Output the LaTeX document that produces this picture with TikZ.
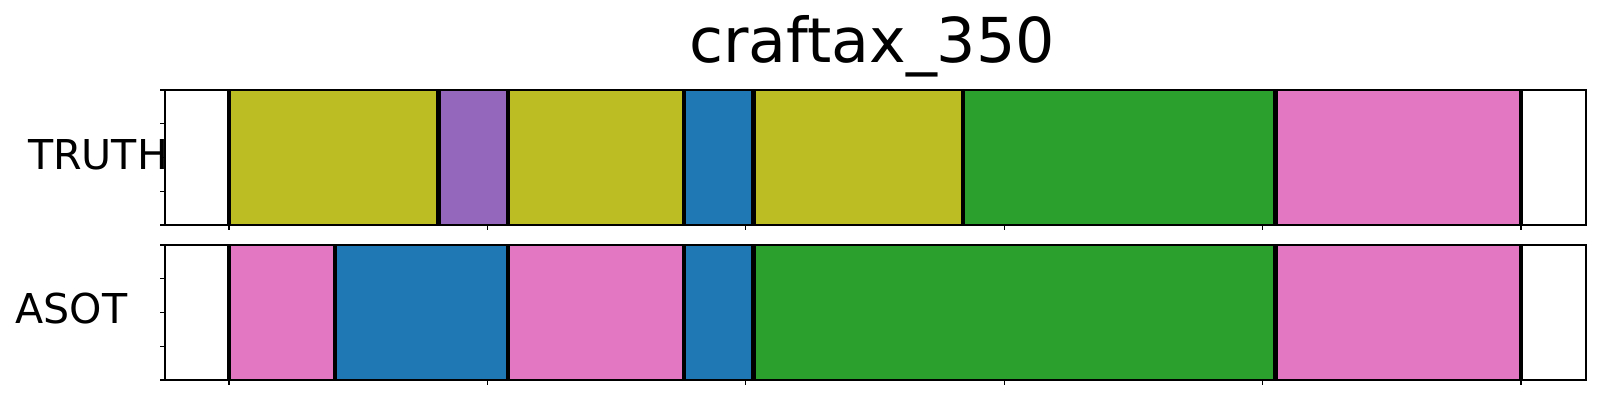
\documentclass[tikz,border=0pt]{standalone}
\usepackage{fontspec}
\setmainfont{DejaVu Sans}
\usetikzlibrary{calc}

\definecolor{segolive}{HTML}{BCBD22}
\definecolor{segpurple}{HTML}{9467BD}
\definecolor{segblue}{HTML}{1F77B4}
\definecolor{seggreen}{HTML}{2CA02C}
\definecolor{segpink}{HTML}{E377C2}

\tikzset{
  bound/.style={line width=1.25pt, black},
  frame/.style={line width=0.35pt, black},
  tick/.style={line width=0.3pt, black}
}

\begin{document}
\begin{tikzpicture}[x=0.01cm, y=-0.01cm, every node/.style={inner sep=0pt, outer sep=0pt}]
\useasboundingbox (0,0) rectangle (1600,400);

\node[anchor=base, font=\fontsize{17.6}{20}\selectfont] (title) at (872,62) {craftax\_350};
\node[anchor=base, font=\fontsize{11.7}{13}\selectfont] (truth) at (98,169) {TRUTH};
\node[anchor=base, font=\fontsize{11.7}{13}\selectfont] (asot) at (71.5,323) {ASOT};

% segments, in frames
\begin{scope}[shift={(229,0)}, xscale=2.584]
\foreach \a/\b/\c in {0/81/segolive, 81/108/segpurple, 108/176/segolive, 176/203/segblue,
                      203/284/segolive, 284/405/seggreen, 405/500/segpink}
  \fill[\c] (\a,90) rectangle (\b,225);
\foreach \a/\b/\c in {0/41/segpink, 41/108/segblue, 108/176/segpink, 176/203/segblue,
                      203/405/seggreen, 405/500/segpink}
  \fill[\c] (\a,245) rectangle (\b,380);

\foreach \x in {0, 81, 108, 176, 203, 284, 405, 500}
  \draw[bound] (\x,90) -- (\x,225);
\foreach \x in {0, 41, 108, 176, 203, 405, 500}
  \draw[bound] (\x,245) -- (\x,380);

% x ticks
\foreach \x in {0, 100, ..., 500} {
  \draw[tick] (\x,225) -- ++(0,5);
  \draw[tick] (\x,380) -- ++(0,5);
}
\end{scope}

% axes frames
\draw[frame] (165,90) rectangle (1586,225);
\draw[frame] (165,245) rectangle (1586,380);

% y ticks
\foreach \t in {0, 1, ..., 4} {
  \draw[tick] (165,{90+33.75*\t}) -- ++(-5,0);
  \draw[tick] (165,{245+33.75*\t}) -- ++(-5,0);
}

\end{tikzpicture}
\end{document}
